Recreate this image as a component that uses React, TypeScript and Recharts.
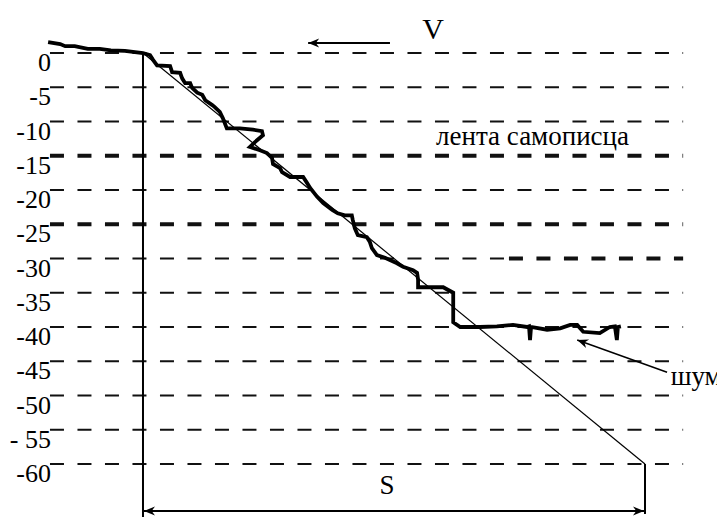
import React from 'react';
import { LineChart, Line, XAxis, YAxis, ReferenceLine, ReferenceDot, Label } from 'recharts';

// ---- data ----
const levelValues = [0, -5, -10, -15, -20, -25, -30, -35, -40, -45, -50, -55, -60];
const levelLabels = ['0', '-5', '-10', '-15', '-20', '-25', '-30', '-35', '-40', '-45', '-50', '- 55', '-60'];
const boldLevels = [-15, -25];
const partlyBoldLevel = -30;

// recorded (noisy) trace
const recordX = [
  -18.9, -16.5, -15.5, -13.6, -11.0, -8.6, -6.4, -3.6, 0,
  1.4, 2.0, 2.8, 5.4, 5.8, 7.4, 7.8, 8.4, 9.4, 9.8, 10.8, 11.8, 12.4, 13.8, 14.3, 15.3, 15.9, 16.7,
  19.3, 21.9, 23.7, 23.9, 22.3, 21.3, 23.3, 24.7, 25.7, 25.9, 27.3, 27.7, 29.3, 31.9, 32.7, 33.3,
  34.7, 35.9, 37.7, 38.8, 40.2, 41.6, 41.8, 42.2, 42.8, 44.6, 45.2, 45.6, 46.6, 48.2, 50.6, 51.8,
  53.8, 54.6, 54.8, 54.8, 59.8, 61.8, 61.8, 63.2, 67.1, 70.5, 73.7, 76.5, 76.9, 77.1, 77.3, 80.5,
  83.1, 85.1, 86.5, 87.7, 91.0, 93.0, 94.0, 94.4, 94.6, 95.2,
];
const recordY = [
  1.6, 1.3, 1.0, 1.0, 0.6, 0.6, 0.4, 0.3, 0,
  -0.3, -1.0, -1.8, -1.9, -2.8, -2.9, -3.7, -4.4, -4.4, -5.1, -5.8, -6.1, -6.9, -7.6, -7.9, -8.6, -9.5, -11.0,
  -11.0, -11.2, -11.4, -12.0, -13.0, -13.7, -14.2, -14.6, -15.3, -16.2, -16.8, -17.4, -18.1, -18.1, -19.0, -19.7,
  -21.0, -21.9, -22.9, -23.4, -23.7, -23.7, -24.4, -25.6, -26.6, -26.9, -27.6, -28.5, -29.5, -29.9, -30.7, -31.2,
  -31.7, -32.1, -33.1, -34.2, -34.2, -35.0, -39.3, -40.0, -40.0, -39.9, -39.7, -40.0, -39.9, -41.9, -40.0, -40.4,
  -40.2, -39.7, -39.7, -40.7, -40.9, -40.0, -39.9, -41.9, -40.0, -39.9,
];

// ideal straight line
const idealX = [0, 100];
const idealY = [0, -60];

const recordData = recordX.map((x, i) => ({ x, y: recordY[i] }));
const idealData = idealX.map((x, i) => ({ x, y: idealY[i] }));

// ---- layout constants ----
const W = 725;
const H = 517;
const X_DOMAIN: [number, number] = [-19.52, 115.94];
const Y_DOMAIN: [number, number] = [-67.74, 7.74];
const GRID_X0 = -18.53;
const GRID_X1 = 107.6;
const BOLD_FROM = 72.9;
const INK = '#000';
const GRID = '#111';
const FONT = 'Liberation Serif';

const fmtLevel = (v: number) => levelLabels[levelValues.indexOf(v)] ?? String(v);

const arrowShape = (both: boolean, width: number) => (p: any) => {
  const { x1, y1, x2, y2 } = p;
  const head = (tx: number, ty: number, fx: number, fy: number, key: string) => {
    const dx = tx - fx;
    const dy = ty - fy;
    const L = Math.hypot(dx, dy) || 1;
    const ux = dx / L;
    const uy = dy / L;
    const len = 11;
    const hw = 4.5;
    const bx = tx - ux * len;
    const by = ty - uy * len;
    const nx = tx - ux * len * 0.7;
    const ny = ty - uy * len * 0.7;
    return (
      <polygon
        key={key}
        points={`${tx},${ty} ${bx - uy * hw},${by + ux * hw} ${nx},${ny} ${bx + uy * hw},${by - ux * hw}`}
        fill={INK}
      />
    );
  };
  return (
    <g>
      <line x1={x1} y1={y1} x2={x2} y2={y2} stroke={INK} strokeWidth={width} />
      {head(x2, y2, x1, y1, 'h2')}
      {both ? head(x1, y1, x2, y2, 'h1') : null}
    </g>
  );
};

export default function App() {
  return (
    <LineChart
      width={W}
      height={H}
      margin={{ top: 0, right: 0, bottom: 0, left: 0 }}
      style={{ marginLeft: -8, marginTop: -8 }}
    >
      <XAxis type="number" dataKey="x" domain={X_DOMAIN} hide allowDataOverflow />
      <YAxis
        type="number"
        dataKey="y"
        domain={Y_DOMAIN}
        ticks={levelValues}
        width={45}
        axisLine={false}
        tickLine={false}
        tickFormatter={fmtLevel}
        tick={{ fontFamily: FONT, fontSize: 26, fill: '#000', dx: 14, dy: 9 }}
        interval={0}
        allowDataOverflow
      />

      {levelValues.map((v) => (
        <ReferenceLine
          key={`lvl${v}`}
          segment={[{ x: GRID_X0, y: v }, { x: v === partlyBoldLevel ? BOLD_FROM : GRID_X1, y: v }]}
          stroke={GRID}
          strokeWidth={boldLevels.includes(v) ? 3.8 : 2.2}
          strokeDasharray="14 13.5"
          ifOverflow="visible"
        />
      ))}
      <ReferenceLine
        segment={[{ x: BOLD_FROM, y: partlyBoldLevel }, { x: GRID_X1, y: partlyBoldLevel }]}
        stroke={GRID}
        strokeWidth={3.8}
        strokeDasharray="14 13.5"
        ifOverflow="visible"
      />

      <ReferenceLine segment={[{ x: 0, y: 0 }, { x: 0, y: -67.74 }]} stroke={INK} strokeWidth={2} ifOverflow="visible" />
      <ReferenceLine segment={[{ x: 100, y: -60 }, { x: 100, y: -67.3 }]} stroke={INK} strokeWidth={2} ifOverflow="visible" />

      <ReferenceLine segment={[{ x: 0.2, y: -66.86 }, { x: 99.8, y: -66.86 }]} shape={arrowShape(true, 2)} ifOverflow="visible" />
      <ReferenceLine segment={[{ x: 49.2, y: 1.46 }, { x: 32.9, y: 1.46 }]} shape={arrowShape(false, 2)} ifOverflow="visible" />
      <ReferenceLine segment={[{ x: 104.4, y: -46.6 }, { x: 86.5, y: -41.9 }]} shape={arrowShape(false, 1.5)} ifOverflow="visible" />

      <Line data={idealData} dataKey="y" type="linear" stroke={INK} strokeWidth={1.2} dot={false} isAnimationActive={false} />
      <Line
        data={recordData}
        dataKey="y"
        type="linear"
        stroke={INK}
        strokeWidth={3.8}
        dot={false}
        isAnimationActive={false}
      />

      <ReferenceDot x={57.8} y={3.65} r={0} fill="none" stroke="none" ifOverflow="visible">
        <Label value="V" position="center" fontFamily={FONT} fontSize={30} fill="#000" />
      </ReferenceDot>
      <ReferenceDot x={48.6} y={-63.0} r={0} fill="none" stroke="none" ifOverflow="visible">
        <Label value="S" position="center" fontFamily={FONT} fontSize={27} fill="#000" />
      </ReferenceDot>
      <ReferenceDot x={77.6} y={-12.0} r={0} fill="none" stroke="none" ifOverflow="visible">
        <Label value="лента самописца" position="center" fontFamily={FONT} fontSize={27} fill="#000" />
      </ReferenceDot>
      <ReferenceDot x={110.2} y={-47.1} r={0} fill="none" stroke="none" ifOverflow="visible">
        <Label value="шум" position="center" fontFamily={FONT} fontSize={27} fill="#000" />
      </ReferenceDot>
    </LineChart>
  );
}
